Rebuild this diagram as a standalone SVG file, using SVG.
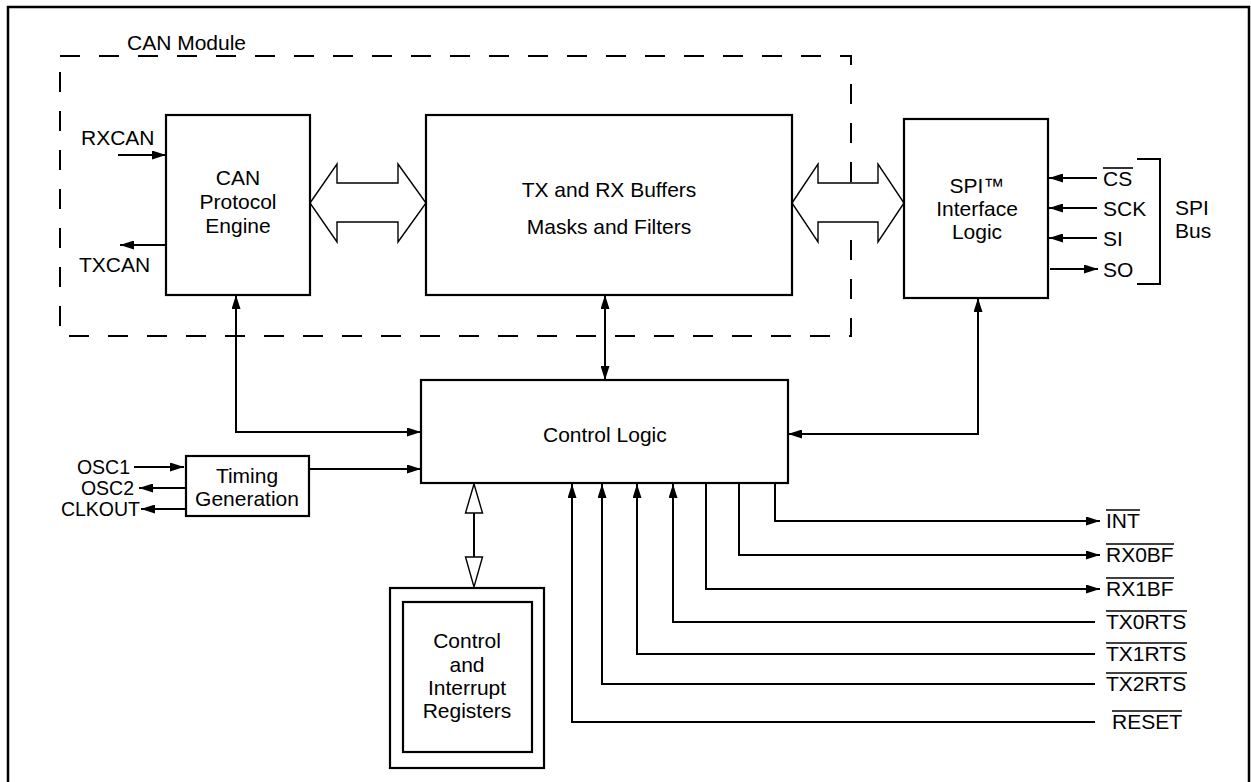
<svg xmlns="http://www.w3.org/2000/svg" width="1251" height="782" viewBox="0 0 1251 782">
<defs>
<marker id="ah" markerUnits="userSpaceOnUse" markerWidth="14" markerHeight="9" refX="14" refY="4.5" orient="auto-start-reverse" viewBox="0 0 14 9">
<path d="M0,0 L14,4.5 L0,9 z" fill="#000"/>
</marker>
</defs>
<style>
text{font-family:"Liberation Sans",Arial,sans-serif;font-size:21px;fill:#000}
.c{text-anchor:middle}
.e{text-anchor:end}
.s{font-size:19.5px}
.box{fill:#fff;stroke:#000;stroke-width:2.2}
.ln{fill:none;stroke:#000;stroke-width:2}
.hol{fill:#fff;stroke:#000;stroke-width:1.4;stroke-linejoin:miter}
.ov{stroke:#000;stroke-width:1.6}
</style>
<rect x="8" y="7" width="1241" height="800" fill="#fff" stroke="#000" stroke-width="2.5"/>
<g id="can-module">
<rect x="60" y="56" width="791" height="280" fill="none" stroke="#000" stroke-width="2" stroke-dasharray="20 19"/>
<text x="127" y="50">CAN Module</text>
</g>
<g id="connectors">
<line class="ln" x1="118" y1="155" x2="166" y2="155" marker-end="url(#ah)"/>
<line class="ln" x1="166" y1="245" x2="120" y2="245" marker-end="url(#ah)"/>
<polyline class="ln" points="236,295 236,432 421,432" marker-start="url(#ah)" marker-end="url(#ah)"/>
<line class="ln" x1="605" y1="295" x2="605" y2="380" marker-start="url(#ah)" marker-end="url(#ah)"/>
<polyline class="ln" points="788,434 978,434 978,298" marker-start="url(#ah)" marker-end="url(#ah)"/>
<line class="ln" x1="1097" y1="178" x2="1049" y2="178" marker-end="url(#ah)"/>
<line class="ln" x1="1097" y1="208" x2="1049" y2="208" marker-end="url(#ah)"/>
<line class="ln" x1="1097" y1="238" x2="1049" y2="238" marker-end="url(#ah)"/>
<line class="ln" x1="1050" y1="269" x2="1098" y2="269" marker-end="url(#ah)"/>
<polyline class="ln" points="1137,159 1160,159 1160,284 1137,284"/>
<line class="ln" x1="134" y1="467" x2="184" y2="467" marker-end="url(#ah)"/>
<line class="ln" x1="186" y1="488" x2="139" y2="488" marker-end="url(#ah)"/>
<line class="ln" x1="186" y1="509" x2="141" y2="509" marker-end="url(#ah)"/>
<line class="ln" x1="309" y1="469" x2="421" y2="469" marker-end="url(#ah)"/>
<polyline class="ln" points="775,483 775,521 1100,521" marker-end="url(#ah)"/>
<polyline class="ln" points="739,483 739,555 1100,555" marker-end="url(#ah)"/>
<polyline class="ln" points="706,483 706,589 1100,589" marker-end="url(#ah)"/>
<polyline class="ln" points="1095,622 673,622 673,484" marker-end="url(#ah)"/>
<polyline class="ln" points="1095,654 637,654 637,484" marker-end="url(#ah)"/>
<polyline class="ln" points="1095,684 602,684 602,484" marker-end="url(#ah)"/>
<polyline class="ln" points="1095,722 572,722 572,484" marker-end="url(#ah)"/>
<line class="ln" x1="474" y1="512" x2="474" y2="558"/>
<polygon class="hol" points="474,484 465.5,513 482.5,513"/>
<polygon class="hol" points="465.5,557 482.5,557 474,587"/>
<polygon class="hol" points="310,203 337,164 337,183 398,183 398,164 426,203 398,242 398,222 337,222 337,242"/>
<polygon class="hol" points="792,203 818,164 818,183 878,183 878,164 904,203 878,242 878,222 818,222 818,242"/>
</g>
<g id="can-engine">
<rect class="box" x="166" y="115" width="144" height="180"/>
<text class="c" x="238" y="185">CAN</text>
<text class="c" x="238" y="209">Protocol</text>
<text class="c" x="238" y="233">Engine</text>
</g>
<g id="buffers">
<rect class="box" x="426" y="115" width="366" height="180"/>
<text class="c" x="609" y="197">TX and RX Buffers</text>
<text class="c" x="609" y="234">Masks and Filters</text>
</g>
<g id="spi">
<rect class="box" x="904" y="119" width="144" height="179"/>
<text class="c" x="977" y="193">SPI™</text>
<text class="c" x="977" y="216">Interface</text>
<text class="c" x="977" y="239">Logic</text>
</g>
<g id="control-logic">
<rect class="box" x="421" y="380" width="367" height="103"/>
<text x="543" y="442">Control Logic</text>
</g>
<g id="timing">
<rect class="box" x="186" y="456" width="123" height="60"/>
<text class="c" x="247" y="483">Timing</text>
<text class="c" x="247" y="506">Generation</text>
</g>
<g id="registers">
<rect class="box" x="390" y="588" width="154" height="180"/>
<rect class="box" x="403" y="602" width="129" height="150"/>
<text class="c" x="467" y="648">Control</text>
<text class="c" x="467" y="672">and</text>
<text class="c" x="467" y="695">Interrupt</text>
<text class="c" x="467" y="718">Registers</text>
</g>
<g id="labels">
<text x="81" y="145">RXCAN</text>
<text x="79" y="272">TXCAN</text>
<text x="1103" y="186">CS</text>
<line class="ov" x1="1103" y1="168" x2="1133" y2="168"/>
<text x="1103" y="216">SCK</text>
<text x="1103" y="246">SI</text>
<text x="1103" y="277">SO</text>
<text x="1175" y="215">SPI</text>
<text x="1175" y="238">Bus</text>
<text class="e s" x="130" y="474">OSC1</text>
<text class="e s" x="134" y="495">OSC2</text>
<text class="e s" x="140" y="516">CLKOUT</text>
<text x="1106" y="528">INT</text>
<line class="ov" x1="1106" y1="510" x2="1140" y2="510"/>
<text x="1106" y="562">RX0BF</text>
<line class="ov" x1="1106" y1="544" x2="1174" y2="544"/>
<text x="1106" y="596">RX1BF</text>
<line class="ov" x1="1106" y1="578" x2="1174" y2="578"/>
<text x="1106" y="629">TX0RTS</text>
<line class="ov" x1="1106" y1="611" x2="1187" y2="611"/>
<text x="1106" y="661">TX1RTS</text>
<line class="ov" x1="1106" y1="643" x2="1187" y2="643"/>
<text x="1106" y="691">TX2RTS</text>
<line class="ov" x1="1106" y1="673" x2="1187" y2="673"/>
<text x="1112" y="729">RESET</text>
<line class="ov" x1="1112" y1="711" x2="1182" y2="711"/>
</g>
</svg>
